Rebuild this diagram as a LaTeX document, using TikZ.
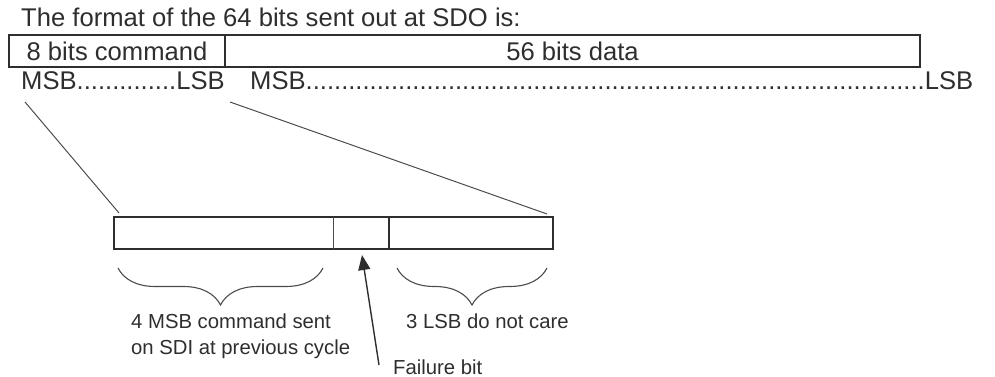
\documentclass[tikz,border=0pt]{standalone}
\usepackage{fontspec}
\setmainfont{Liberation Sans}
\usetikzlibrary{decorations.pathreplacing,arrows.meta}
\definecolor{ink}{gray}{0.18}
\definecolor{lite}{gray}{0.3}
\begin{document}
\begin{tikzpicture}[x=1pt,y=-1pt,
  big/.style={font=\fontsize{25.6}{30}\selectfont, text=ink, inner sep=0pt},
  small/.style={font=\fontsize{20.3}{26}\selectfont, text=ink, inner sep=0pt, align=left},
  field/.style={draw=ink, line width=2pt, inner sep=0pt, minimum height=32pt, anchor=north west},
  cell/.style={inner sep=0pt, minimum height=32pt, anchor=north west},
  frame/.style={draw=ink, line width=2pt},
  thinline/.style={draw=lite, line width=1pt},
  bracestyle/.style={draw=lite, line width=1.1pt, decorate, decoration={brace, amplitude=37pt, aspect=0.5}},
  arrowstyle/.style={draw=ink, line width=1.4pt, -{Triangle[length=15pt,width=12pt]}}]
\useasboundingbox (0,0) rectangle (995,377);

\node[big, anchor=base west] (title) at (21,27) {The format of the 64 bits sent out at SDO is:};

\node[field, minimum width=216pt, big] (cmd) at (8,34) {8 bits command};
\node[field, minimum width=695pt, big] (data) at (224,34) {56 bits data};

\node[big, anchor=base west] (m1) at (21,90) {MSB..............LSB};
\node[big, anchor=base west] (m2) at (250,90) {MSB.......................................................................................LSB};

\node[cell, minimum width=219pt] (f1) at (114,217) {};
\node[cell, minimum width=56pt] (f2) at (333,217) {};
\node[cell, minimum width=164pt] (f3) at (389,217) {};
\draw[frame] (f1.north west) rectangle (f3.south east);
\draw[thinline] (f2.north west) -- (f2.south west);
\draw[frame] (f3.north west) -- (f3.south west);

\coordinate (s1) at (25,102);
\coordinate (e1) at (119,213);
\coordinate (s2) at (230,102);
\coordinate (e2) at (547,214);
\draw[thinline] (s1) -- (e1);
\draw[thinline] (s2) -- (e2);

\coordinate (b1r) at (323,268);
\coordinate (b1l) at (118,268);
\coordinate (b2r) at (547,268);
\coordinate (b2l) at (397,268);
\draw[bracestyle] (b1r) -- (b1l);
\draw[bracestyle] (b2r) -- (b2l);

\node[small, anchor=base west] (l1) at (131,354) {4 MSB command sent\\on SDI at previous cycle};
\node[small, anchor=base west] (l3) at (406,328) {3 LSB do not care};
\node[small, anchor=base west] (fb) at (393,374) {Failure bit};

\coordinate (as) at (379,365);
\coordinate (at) at (362,255);
\draw[arrowstyle] (as) -- (at);
\end{tikzpicture}
\end{document}
